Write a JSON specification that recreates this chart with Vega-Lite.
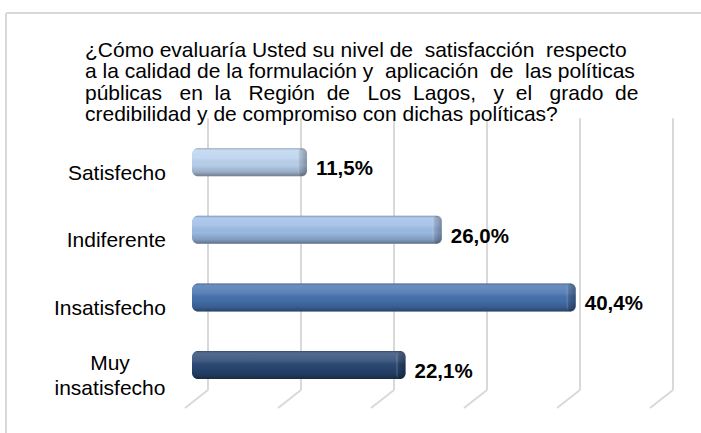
{
  "$schema": "https://vega.github.io/schema/vega-lite/v6.json",
  "width": 695,
  "height": 420,
  "autosize": {"type": "none"},
  "padding": {"left": 6, "top": 13, "right": 0, "bottom": 0},
  "background": "white",
  "config": {
    "view": {"stroke": null},
    "font": "Liberation Sans",
    "locale": {"number": {"decimal": ",", "thousands": ".", "grouping": [3], "currency": ["$", ""]}}
  },
  "title": {
    "text": [
      "¿Cómo evaluaría Usted su nivel de\u00a0 satisfacción\u00a0 respecto",
      "a la calidad de la formulación y\u00a0 aplicación\u00a0 de\u00a0 las políticas",
      "públicas \u00a0\u00a0en \u00a0la \u00a0\u00a0Región \u00a0de \u00a0\u00a0Los \u00a0Lagos, \u00a0\u00a0y \u00a0el \u00a0\u00a0grado \u00a0de",
      "credibilidad y de compromiso con dichas políticas?"
    ],
    "anchor": "start",
    "frame": "group",
    "orient": "top",
    "dx": 79,
    "offset": -113,
    "fontSize": 21,
    "fontWeight": "normal",
    "font": "Liberation Sans",
    "color": "#000000",
    "lineHeight": 21.5
  },
  "datasets": {
    "main": [
      {"cat": "Satisfecho", "v": 0.115},
      {"cat": "Indiferente", "v": 0.26},
      {"cat": "Insatisfecho", "v": 0.404},
      {"cat": "Muy insatisfecho", "v": 0.221}
    ],
    "grid": [{"g": 0}, {"g": 0.1}, {"g": 0.2}, {"g": 0.3}, {"g": 0.4}, {"g": 0.5}]
  },
  "layer": [
    {
      "data": {"name": "grid"},
      "mark": {"type": "rule", "color": "#d9d9d9", "strokeWidth": 2, "xOffset": 8, "yOffset": -44, "y2Offset": 25},
      "encoding": {
        "x": {"field": "g", "type": "quantitative", "scale": {"domain": [-0.2086, 0.5387], "nice": false, "zero": false}, "axis": null},
        "y": {"datum": "Satisfecho", "type": "nominal", "scale": {"domain": ["Satisfecho", "Indiferente", "Insatisfecho", "Muy insatisfecho"], "range": [135.2, 366], "paddingInner": 0.5858, "paddingOuter": 0, "round": false}, "axis": null},
        "y2": {"datum": "Muy insatisfecho"}
      }
    },
    {
      "data": {"name": "grid"},
      "mark": {"type": "rule", "color": "#d9d9d9", "strokeWidth": 2, "xOffset": 8, "x2Offset": -15, "yOffset": 25, "y2Offset": 43},
      "encoding": {
        "x": {"field": "g", "type": "quantitative", "scale": {"domain": [-0.2086, 0.5387], "nice": false, "zero": false}, "axis": null},
        "x2": {"field": "g"},
        "y": {"datum": "Muy insatisfecho", "type": "nominal", "scale": {"domain": ["Satisfecho", "Indiferente", "Insatisfecho", "Muy insatisfecho"], "range": [135.2, 366], "paddingInner": 0.5858, "paddingOuter": 0, "round": false}, "axis": null},
        "y2": {"datum": "Muy insatisfecho"}
      }
    },
    {
      "data": {"name": "grid"},
      "mark": {"type": "rule", "color": "#d9d9d9", "strokeWidth": 1.5},
      "encoding": {
        "x": {"datum": -0.2086, "type": "quantitative", "scale": {"domain": [-0.2086, 0.5387], "nice": false, "zero": false}, "axis": null}
      }
    },
    {
      "data": {"name": "grid"},
      "mark": {"type": "rule", "color": "#d9d9d9", "strokeWidth": 1.5, "yOffset": -149.2},
      "encoding": {
        "y": {"datum": "Satisfecho", "type": "nominal", "scale": {"domain": ["Satisfecho", "Indiferente", "Insatisfecho", "Muy insatisfecho"], "range": [135.2, 366], "paddingInner": 0.5858, "paddingOuter": 0, "round": false}, "axis": null}
      }
    },
    {
      "data": {"name": "main"},
      "transform": [{"filter": "datum.cat != 'Muy insatisfecho'"}],
      "mark": {"type": "text", "align": "right", "baseline": "alphabetic", "dy": 17.5, "fontSize": 21, "color": "#000000"},
      "encoding": {
        "x": {"datum": -0.0366, "type": "quantitative", "scale": {"domain": [-0.2086, 0.5387], "nice": false, "zero": false}, "axis": null},
        "y": {"field": "cat", "type": "nominal", "scale": {"domain": ["Satisfecho", "Indiferente", "Insatisfecho", "Muy insatisfecho"], "range": [135.2, 366], "paddingInner": 0.5858, "paddingOuter": 0, "round": false}, "axis": null},
        "text": {"field": "cat"}
      }
    },
    {
      "data": {"name": "main"},
      "transform": [{"filter": "datum.cat == 'Muy insatisfecho'"}],
      "mark": {"type": "text", "align": "center", "baseline": "alphabetic", "dy": 5, "fontSize": 21, "lineBreak": " ", "lineHeight": 25, "color": "#000000"},
      "encoding": {
        "x": {"datum": -0.0968, "type": "quantitative", "scale": {"domain": [-0.2086, 0.5387], "nice": false, "zero": false}, "axis": null},
        "y": {"field": "cat", "type": "nominal", "scale": {"domain": ["Satisfecho", "Indiferente", "Insatisfecho", "Muy insatisfecho"], "range": [135.2, 366], "paddingInner": 0.5858, "paddingOuter": 0, "round": false}, "axis": null},
        "text": {"field": "cat"}
      }
    },
    {
      "data": {"name": "main"},
      "mark": {"type": "bar", "cornerRadius": 6, "x2Offset": -8},
      "encoding": {
        "x": {"field": "v", "type": "quantitative", "scale": {"domain": [-0.2086, 0.5387], "nice": false, "zero": false}, "axis": null},
        "x2": {"datum": 0},
        "y": {"field": "cat", "type": "nominal", "scale": {"domain": ["Satisfecho", "Indiferente", "Insatisfecho", "Muy insatisfecho"], "range": [135.2, 366], "paddingInner": 0.5858, "paddingOuter": 0, "round": false}, "axis": null},
        "color": {"field": "cat", "type": "nominal", "legend": null, "scale": {"domain": ["Satisfecho", "Indiferente", "Insatisfecho", "Muy insatisfecho"], "range": ["#bad2ef", "#9dbce6", "#4571ad", "#284672"]}}
      }
    },
    {
      "data": {"name": "main"},
      "mark": {
        "type": "bar", "cornerRadius": 6, "x2Offset": -8,
        "color": {"gradient": "linear", "x1": 0, "y1": 0, "x2": 0, "y2": 1, "stops": [
          {"offset": 0, "color": "rgba(60,70,90,0.35)"},
          {"offset": 0.08, "color": "rgba(255,255,255,0.2)"},
          {"offset": 0.35, "color": "rgba(255,255,255,0.12)"},
          {"offset": 0.6, "color": "rgba(0,0,0,0.02)"},
          {"offset": 0.85, "color": "rgba(0,0,0,0.18)"},
          {"offset": 1, "color": "rgba(0,0,0,0.4)"}
        ]}
      },
      "encoding": {
        "x": {"field": "v", "type": "quantitative", "scale": {"domain": [-0.2086, 0.5387], "nice": false, "zero": false}, "axis": null},
        "x2": {"datum": 0},
        "y": {"field": "cat", "type": "nominal", "scale": {"domain": ["Satisfecho", "Indiferente", "Insatisfecho", "Muy insatisfecho"], "range": [135.2, 366], "paddingInner": 0.5858, "paddingOuter": 0, "round": false}, "axis": null}
      }
    },
    {
      "data": {"name": "main"},
      "mark": {
        "type": "bar", "cornerRadius": 5, "x2Offset": -9,
        "color": {"gradient": "linear", "x1": 0, "y1": 0, "x2": 1, "y2": 0, "stops": [
          {"offset": 0, "color": "rgba(255,255,255,0.25)"},
          {"offset": 0.25, "color": "rgba(0,0,0,0.12)"},
          {"offset": 1, "color": "rgba(0,0,0,0.3)"}
        ]}
      },
      "encoding": {
        "x": {"field": "v", "type": "quantitative", "scale": {"domain": [-0.2086, 0.5387], "nice": false, "zero": false}, "axis": null},
        "x2": {"field": "v"},
        "y": {"field": "cat", "type": "nominal", "scale": {"domain": ["Satisfecho", "Indiferente", "Insatisfecho", "Muy insatisfecho"], "range": [135.2, 366], "paddingInner": 0.5858, "paddingOuter": 0, "round": false}, "axis": null}
      }
    },
    {
      "data": {"name": "main"},
      "mark": {"type": "text", "align": "left", "baseline": "alphabetic", "dx": 9, "dy": 13, "fontSize": 20.5, "fontWeight": "bold", "color": "#000000"},
      "encoding": {
        "x": {"field": "v", "type": "quantitative", "scale": {"domain": [-0.2086, 0.5387], "nice": false, "zero": false}, "axis": null},
        "y": {"field": "cat", "type": "nominal", "scale": {"domain": ["Satisfecho", "Indiferente", "Insatisfecho", "Muy insatisfecho"], "range": [135.2, 366], "paddingInner": 0.5858, "paddingOuter": 0, "round": false}, "axis": null},
        "text": {"field": "v", "type": "quantitative", "format": ".1%"}
      }
    }
  ]
}
